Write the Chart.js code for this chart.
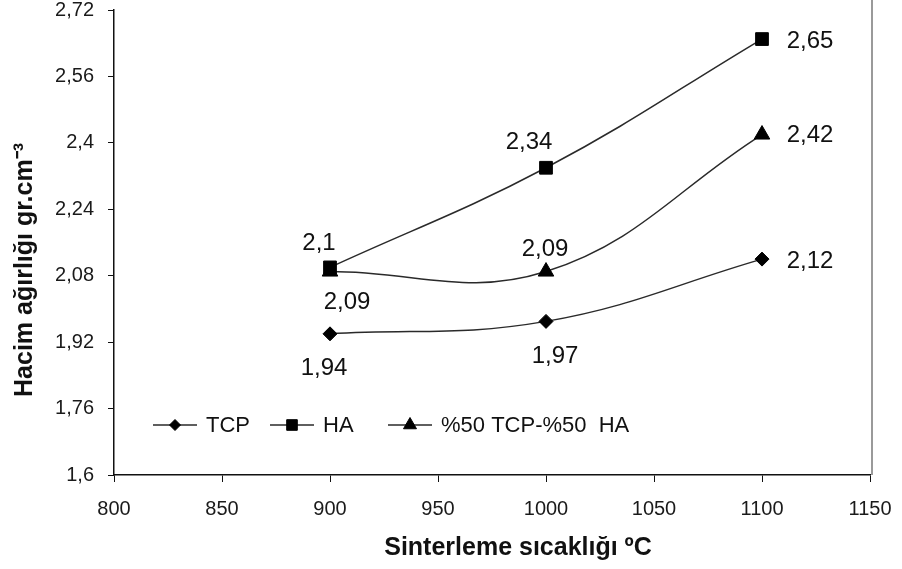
<!DOCTYPE html>
<html lang="tr">
<head>
<meta charset="utf-8">
<title>Hacim ağırlığı - Sinterleme sıcaklığı</title>
<script src="https://cdn.jsdelivr.net/npm/chart.js@4.4.1/dist/chart.umd.min.js"></script>
<style>
  html, body { margin: 0; padding: 0; background: #fff; }
  #grafik { display: block; }
</style>
</head>
<body>
<canvas id="grafik" width="902" height="569"></canvas>
<script>
// Sinterleme sıcaklığı (ºC)
const sicakliklar = [900, 1000, 1100];

// Hacim ağırlığı (gr.cm-3)
const tcp = [1.94, 1.97, 2.12];
const ha = [2.10, 2.34, 2.65];
const karisim = [2.09, 2.09, 2.42];

const seriAdlari = ["TCP", "HA", "%50 TCP-%50  HA"];
const isaretler = ["rectRot", "rect", "triangle"];
const isaretBoyu = [7, 9, 9];

const xEtiketleri = [800, 850, 900, 950, 1000, 1050, 1100, 1150];
const yEtiketleri = [1.6, 1.76, 1.92, 2.08, 2.24, 2.4, 2.56, 2.72];

// değer etiketlerinin noktaya göre kayması [dx, dy]
const etiketKaymalari = [
    [[-6, 35], [9, 35], [48, 2]],
    [[-11, -24], [-17, -25], [48, 2]],
    [[17, 31], [-1, -22], [48, 1]]
];

// gösterge öğelerinin çizim alanının solundan uzaklığı
const gostergeYerleri = [39, 156, 274];

const yaziTipi = "'Liberation Sans', Arial, sans-serif";
const virgullu = v => String(Number(v.toFixed(2))).replace(".", ",");

function seri(i, degerler) {
    return {
        label: seriAdlari[i],
        data: sicakliklar.map((x, j) => ({ x: x, y: degerler[j] })),
        borderColor: "#2a2a2a",
        borderWidth: 1.5,
        backgroundColor: "#000",
        pointStyle: isaretler[i],
        pointRadius: isaretBoyu[i],
        pointHoverRadius: isaretBoyu[i],
        pointBorderColor: "#000",
        pointBorderWidth: 1,
        tension: 0.4,
        fill: false
    };
}

// Değerleri noktaların yanına yaz
const degerYazilari = {
    id: "degerYazilari",
    afterDatasetsDraw(chart) {
        const ctx = chart.ctx;
        ctx.save();
        ctx.font = "24px " + yaziTipi;
        ctx.fillStyle = "#111";
        ctx.textAlign = "center";
        ctx.textBaseline = "middle";
        chart.data.datasets.forEach((ds, i) => {
            chart.getDatasetMeta(i).data.forEach((nokta, j) => {
                const [dx, dy] = etiketKaymalari[i][j];
                ctx.fillText(virgullu(ds.data[j].y), nokta.x + dx, nokta.y + dy);
            });
        });
        ctx.restore();
    }
};

// Çizim alanı içindeki gösterge
const gosterge = {
    id: "gosterge",
    afterDraw(chart) {
        const ctx = chart.ctx;
        const alan = chart.chartArea;
        const y = alan.bottom - 50;
        ctx.save();
        chart.data.datasets.forEach((ds, i) => {
            const x = alan.left + gostergeYerleri[i];
            ctx.strokeStyle = ds.borderColor;
            ctx.lineWidth = 1.5;
            ctx.beginPath();
            ctx.moveTo(x, y);
            ctx.lineTo(x + 44, y);
            ctx.stroke();
            ctx.fillStyle = "#000";
            ctx.strokeStyle = "#000";
            ctx.lineWidth = 1;
            Chart.helpers.drawPoint(ctx, {
                pointStyle: ds.pointStyle,
                radius: ds.pointRadius - 1.5,
                borderWidth: 1,
                rotation: 0
            }, x + 22, y);
            ctx.fillStyle = "#111";
            ctx.font = "22px " + yaziTipi;
            ctx.textAlign = "left";
            ctx.textBaseline = "middle";
            ctx.fillText(ds.label, x + 53, y + 1);
        });
        ctx.restore();
    }
};

// Eksen başlıkları ve sağ kenar çizgisi
const eksenYazilari = {
    id: "eksenYazilari",
    afterDraw(chart) {
        const ctx = chart.ctx;
        const alan = chart.chartArea;
        ctx.save();
        ctx.strokeStyle = "#9a9a9a";
        ctx.lineWidth = 2;
        ctx.beginPath();
        ctx.moveTo(alan.right + 2, 0);
        ctx.lineTo(alan.right + 2, alan.bottom);
        ctx.stroke();

        ctx.fillStyle = "#111";
        ctx.font = "bold 25px " + yaziTipi;
        ctx.textAlign = "center";
        ctx.textBaseline = "alphabetic";
        ctx.fillText("Sinterleme sıcaklığı ºC", alan.left + 404, alan.bottom + 80);

        ctx.translate(32, alan.top + 260);
        ctx.rotate(-Math.PI / 2);
        ctx.fillText("Hacim ağırlığı gr.cm⁻³", 0, 0);
        ctx.restore();
    }
};

new Chart(document.getElementById("grafik"), {
    type: "line",
    data: {
        datasets: [seri(0, tcp), seri(1, ha), seri(2, karisim)]
    },
    options: {
        responsive: false,
        animation: false,
        layout: {
            padding: { top: 10, right: 32, left: 0, bottom: 0 }
        },
        plugins: {
            legend: { display: false },
            tooltip: { enabled: false }
        },
        scales: {
            x: {
                type: "linear",
                min: 800,
                max: 1150,
                afterBuildTicks: s => { s.ticks = xEtiketleri.map(v => ({ value: v })); },
                afterFit: s => { s.height = 94; s.paddingLeft = 0; s.paddingRight = 0; },
                border: { color: "#111", width: 1.5 },
                grid: { drawOnChartArea: false, drawTicks: true, tickLength: 7, color: "#111" },
                ticks: {
                    padding: 15,
                    color: "#1a1a1a",
                    font: { family: yaziTipi, size: 20 },
                    callback: v => String(v)
                }
            },
            y: {
                min: 1.6,
                max: 2.72,
                afterBuildTicks: s => { s.ticks = yEtiketleri.map(v => ({ value: v })); },
                afterFit: s => { s.width = 114; s.paddingTop = 0; s.paddingBottom = 0; },
                border: { color: "#111", width: 1.5 },
                grid: { drawOnChartArea: false, drawTicks: true, tickLength: 6, color: "#111" },
                ticks: {
                    padding: 14,
                    color: "#1a1a1a",
                    font: { family: yaziTipi, size: 20 },
                    callback: v => virgullu(v)
                }
            }
        }
    },
    plugins: [degerYazilari, gosterge, eksenYazilari]
});
</script>
</body>
</html>
